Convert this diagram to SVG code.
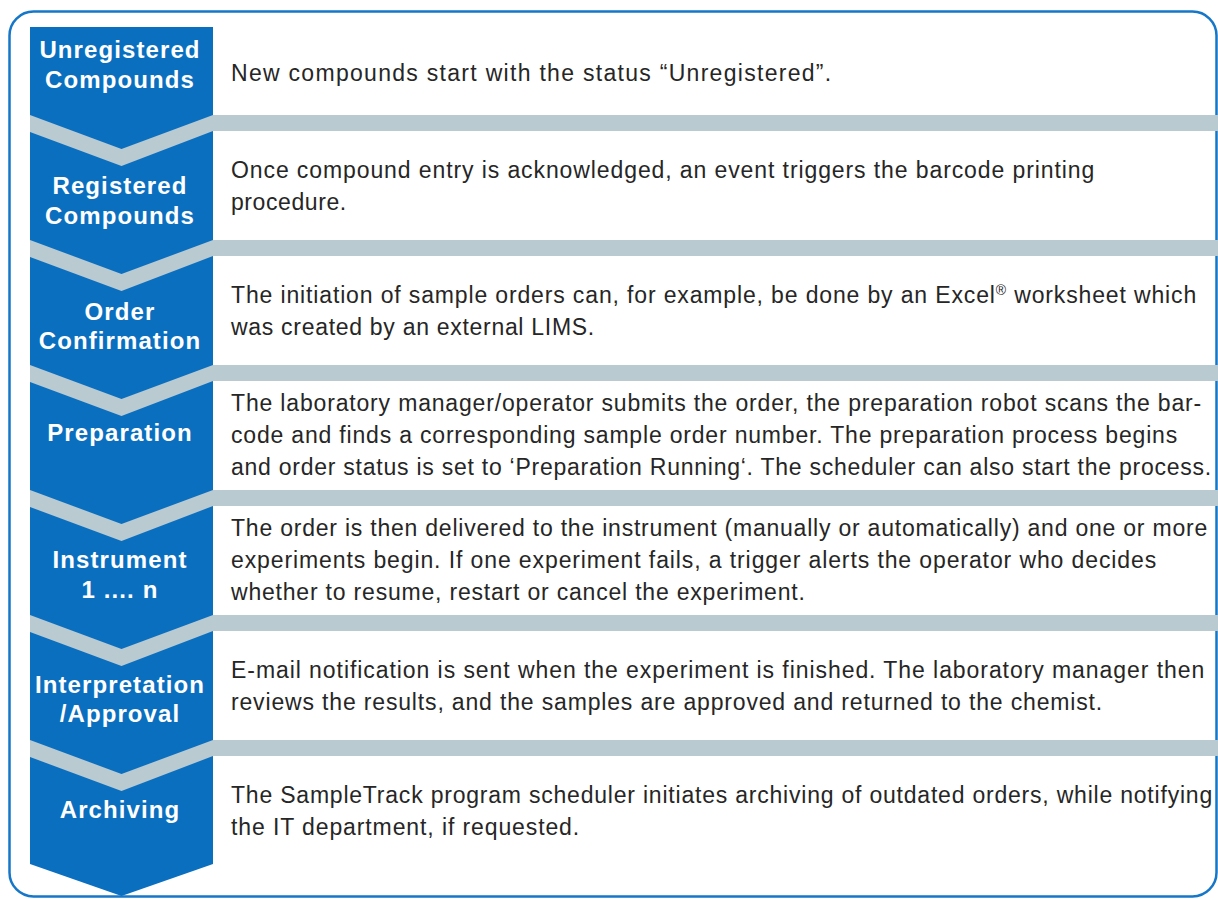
<svg xmlns="http://www.w3.org/2000/svg" width="1218" height="900" viewBox="0 0 1218 900">
<style>
.lbl{font-family:"Liberation Sans",Arial,Helvetica,sans-serif;font-weight:bold;font-size:24px;fill:#ffffff;text-anchor:middle;letter-spacing:1.1px}
.txt{font-family:"Liberation Sans",Arial,Helvetica,sans-serif;font-size:23px;fill:#262626;letter-spacing:0.8px}
.sup{font-size:14px}
.band{fill:#b9cad1}
</style>
<rect x="0" y="0" width="1218" height="900" fill="#ffffff"/>
<rect id="frame" x="9.5" y="11.5" width="1207" height="885" rx="24" ry="24" fill="none" stroke="#1677c9" stroke-width="2.5"/>
<polygon id="column" points="30,27 213,27 213,864 121.5,896 30,864" fill="#0b6fc0"/>
<g id="separators">
<polygon class="band" points="30,115 121.5,149 213,115 1218,115 1218,131 213,131 121.5,166 30,132"/>
<polygon class="band" points="30,240 121.5,274 213,240 1218,240 1218,256 213,256 121.5,291 30,257"/>
<polygon class="band" points="30,365 121.5,399 213,365 1218,365 1218,381 213,381 121.5,416 30,382"/>
<polygon class="band" points="30,490 121.5,524 213,490 1218,490 1218,506 213,506 121.5,541 30,507"/>
<polygon class="band" points="30,615 121.5,649 213,615 1218,615 1218,631 213,631 121.5,666 30,632"/>
<polygon class="band" points="30,740 121.5,774 213,740 1218,740 1218,756 213,756 121.5,791 30,757"/>
</g>
<g id="stage-unregistered">
<text class="lbl" x="120" y="58">Unregistered</text>
<text class="lbl" x="120" y="88">Compounds</text>
<text class="txt" x="231" y="81" textLength="601" lengthAdjust="spacing">New compounds start with the status “Unregistered”.</text>
</g>
<g id="stage-registered">
<text class="lbl" x="120" y="194">Registered</text>
<text class="lbl" x="120" y="224">Compounds</text>
<text class="txt" x="231" y="178" textLength="864" lengthAdjust="spacing">Once compound entry is acknowledged, an event triggers the barcode printing</text>
<text class="txt" x="231" y="210" textLength="116" lengthAdjust="spacing">procedure.</text>
</g>
<g id="stage-order">
<text class="lbl" x="120" y="320">Order</text>
<text class="lbl" x="120" y="349">Confirmation</text>
<text class="txt" x="231" y="303" textLength="966" lengthAdjust="spacing">The initiation of sample orders can, for example, be done by an Excel<tspan class="sup" baseline-shift="super">®</tspan> worksheet which</text>
<text class="txt" x="231" y="335" textLength="364" lengthAdjust="spacing">was created by an external LIMS.</text>
</g>
<g id="stage-preparation">
<text class="lbl" x="120" y="441">Preparation</text>
<text class="txt" x="231" y="411" textLength="971" lengthAdjust="spacing">The laboratory manager/operator submits the order, the preparation robot scans the bar-</text>
<text class="txt" x="231" y="443" textLength="947" lengthAdjust="spacing">code and finds a corresponding sample order number. The preparation process begins</text>
<text class="txt" x="231" y="475" textLength="981" lengthAdjust="spacing">and order status is set to ‘Preparation Running‘. The scheduler can also start the process.</text>
</g>
<g id="stage-instrument">
<text class="lbl" x="120" y="568">Instrument</text>
<text class="lbl" x="120" y="598">1 .... n</text>
<text class="txt" x="231" y="536" textLength="977" lengthAdjust="spacing">The order is then delivered to the instrument (manually or automatically) and one or more</text>
<text class="txt" x="231" y="568" textLength="926" lengthAdjust="spacing">experiments begin. If one experiment fails, a trigger alerts the operator who decides</text>
<text class="txt" x="231" y="600">whether to resume, restart or cancel the experiment.</text>
</g>
<g id="stage-interpretation">
<text class="lbl" x="120" y="693">Interpretation</text>
<text class="lbl" x="120" y="722">/Approval</text>
<text class="txt" x="231" y="678" textLength="974" lengthAdjust="spacing">E-mail notification is sent when the experiment is finished. The laboratory manager then</text>
<text class="txt" x="231" y="710" textLength="872" lengthAdjust="spacing">reviews the results, and the samples are approved and returned to the chemist.</text>
</g>
<g id="stage-archiving">
<text class="lbl" x="120" y="818">Archiving</text>
<text class="txt" x="231" y="803" textLength="982" lengthAdjust="spacing">The SampleTrack program scheduler initiates archiving of outdated orders, while notifying</text>
<text class="txt" x="231" y="835" textLength="349" lengthAdjust="spacing">the IT department, if requested.</text>
</g>
</svg>
